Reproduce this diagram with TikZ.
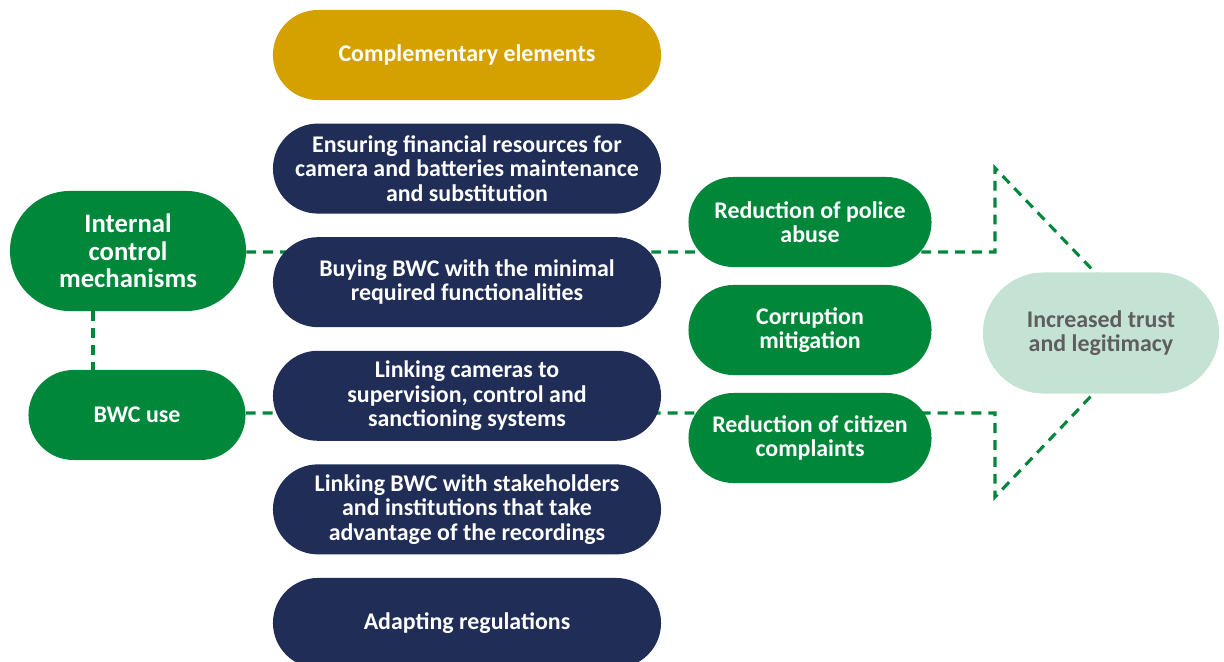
\documentclass[tikz,border=0pt]{standalone}
\usepackage{fontspec}
\setmainfont{Carlito}
\usetikzlibrary{positioning,shapes.misc,backgrounds}
\definecolor{navy}{HTML}{1F2D57}
\definecolor{leaf}{HTML}{00873A}
\definecolor{gold}{HTML}{D4A100}
\definecolor{mint}{HTML}{C5E3D4}
\definecolor{slate}{HTML}{5E5E5E}
\tikzset{
  pill/.style={rounded rectangle, align=center, text=white, inner sep=0pt, minimum height=2.25cm, font=\bfseries\fontsize{17}{17.5}\selectfont},
  measure/.style={pill, fill=navy, minimum width=9.7cm},
  effect/.style={pill, fill=leaf, minimum width=6.075cm},
  link/.style={draw=leaf, line width=2.2pt, dash pattern=on 7pt off 5pt}
}
\begin{document}
\begin{tikzpicture}[x=0.025cm, y=-0.025cm, node distance=0.575cm]
  \useasboundingbox (0,0) rectangle (1224,662);
  % middle column
  \node[pill, fill=gold, minimum width=9.7cm] (compl) at (467,55) {Complementary elements};
  \node[measure, below=of compl] (funds) {Ensuring financial resources for\\camera and batteries maintenance\\and substitution};
  \node[measure, below=of funds] (buying) {Buying BWC with the minimal\\required functionalities};
  \node[measure, below=of buying] (linkcam) {Linking cameras to\\supervision, control and\\sanctioning systems};
  \node[measure, below=of linkcam] (linkstake) {Linking BWC with stakeholders\\and institutions that take\\advantage of the recordings};
  \node[measure, below=of linkstake] (regs) {Adapting regulations};
  % left side
  \node[pill, fill=leaf, minimum width=5.9cm, minimum height=3cm, font=\bfseries\fontsize{19}{19.5}\selectfont] (internal) at (128,251) {Internal\\control\\mechanisms};
  \node[pill, fill=leaf, minimum width=5.425cm] (bwcuse) at (137,415) {BWC use};
  % outcomes
  \node[effect] (abuse) at (810,222) {Reduction of police\\abuse};
  \node[effect] (corrupt) at (810,330) {Corruption\\mitigation};
  \node[effect] (complaints) at (810,438) {Reduction of citizen\\complaints};
  \node[pill, fill=mint, text=slate, minimum width=5.9cm, minimum height=3.025cm] (trust) at (1101,333) {Increased trust\\and legitimacy};

  \coordinate (upcorner) at (995,252);
  \coordinate (uptip) at (995,168);
  \coordinate (lowcorner) at (995,413);
  \coordinate (lowtip) at (995,497);
  \coordinate (apex) at (1152,332);

  \begin{scope}[on background layer]
    \draw[link] (internal.east |- upcorner) -- (upcorner) -- (uptip) -- (apex);
    \draw[link] (bwcuse.east |- lowcorner) -- (lowcorner) -- (lowtip) -- (apex);
    \draw[link] (internal.south -| 93,0) -- (bwcuse.north -| 93,0);
  \end{scope}
\end{tikzpicture}
\end{document}
